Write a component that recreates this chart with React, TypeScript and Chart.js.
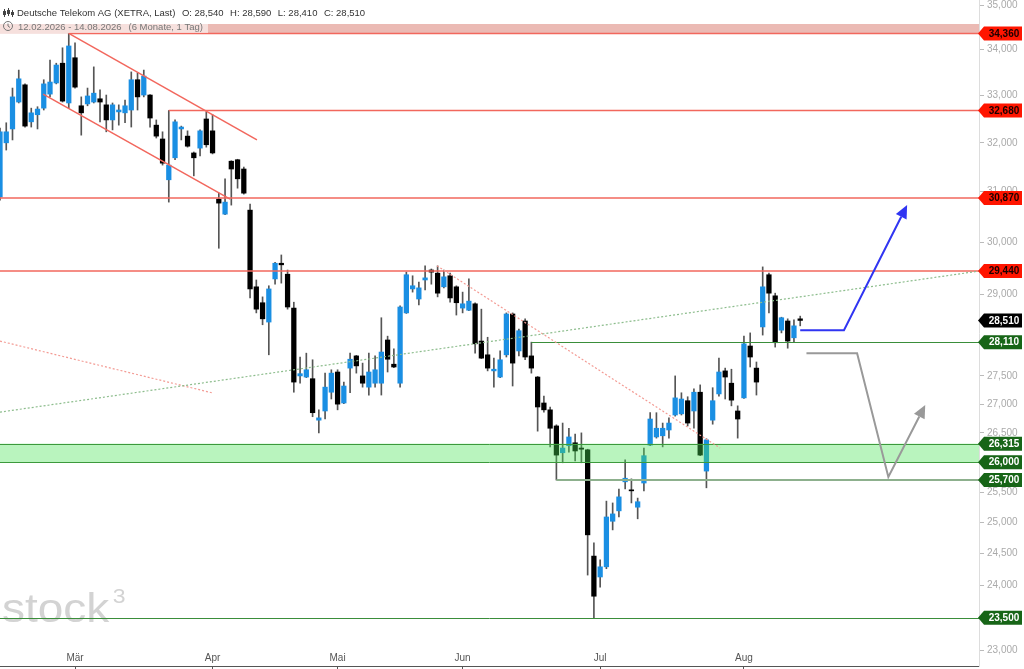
import React, { useEffect, useRef } from 'react';
import { Chart, registerables } from 'chart.js';

Chart.register(...registerables);

// ---- data (daily candles, 12.02.2026 - 14.08.2026) ----
const opens = [
  30890, 32000, 32290, 32860, 33230, 32440, 32590, 32730, 33030, 33270,
  33700, 32840, 33820, 32780, 32820, 32860, 32930, 32800, 32480, 32650,
  32630, 32690, 33340, 33010, 33010, 32370, 32080, 31240, 31690, 32290,
  32140, 31790, 31890, 32500, 32250, 30850, 30550, 31620, 31650, 31460,
  30630, 29140, 28840, 28480, 29290, 29590, 29380, 28740, 27500, 27480,
  27450, 26720, 26880, 27210, 27570, 27020, 27640, 27860, 27500, 27300,
  27370, 27370, 28150, 27710, 27370, 28650, 29100, 28910, 29270, 29460,
  29400, 29140, 29350, 29140, 28740, 28700, 28820, 28130, 27880, 27590,
  27480, 27880, 28630, 27950, 28500, 27860, 27480, 27020, 26900, 26620,
  26160, 26280, 26330, 26240, 26210, 24460, 24130, 24290, 25020, 25190,
  25670, 25530, 25250, 25650, 26290, 26430, 26450, 26550, 26810, 26830,
  27060, 26880, 27210, 25850, 26720, 27180, 27590, 27370, 26880, 27110,
  28040, 27640, 28390, 29370, 28970, 28330, 28500, 28190, 28540,
];
const highs = [
  32310, 32420, 33160, 33550, 33250, 32730, 32760, 33340, 33770, 33700,
  34040, 34360, 34150, 32970, 33160, 33620, 33120, 33010, 32840, 32800,
  32900, 33510, 33490, 33550, 33020, 32480, 32230, 32680, 32480, 32350,
  32250, 31810, 32270, 32650, 32590, 30970, 31260, 31630, 31660, 31500,
  30750, 29270, 28950, 29160, 29610, 29750, 29460, 28850, 27840, 27910,
  27790, 26900, 27550, 27610, 27610, 27390, 27910, 27870, 27730, 27910,
  27860, 28560, 28220, 27990, 28780, 29420, 29350, 29230, 29540, 29480,
  29540, 29460, 29400, 29160, 29040, 29290, 28840, 28720, 28200, 27820,
  27950, 28650, 28650, 28350, 28540, 28110, 27490, 27140, 26950, 26640,
  26670, 26580, 26480, 26500, 26220, 24670, 24400, 25350, 25320, 25550,
  26040, 25720, 25400, 26240, 26850, 26850, 26670, 26760, 27500, 27200,
  27130, 27270, 27340, 26400, 27290, 27820, 27640, 27620, 26970, 28220,
  28280, 27750, 29520, 29400, 29020, 28570, 28540, 28520, 28590,
];
const lows = [
  30830, 31850, 32060, 32840, 32330, 32330, 32290, 32690, 32970, 33250,
  32860, 32730, 33160, 32160, 32780, 32840, 32440, 32230, 32270, 32370,
  32420, 32330, 32690, 32970, 32330, 32100, 31540, 30790, 31650, 32060,
  31910, 31320, 31730, 31910, 31770, 29880, 30540, 30730, 31070, 30950,
  28930, 28650, 28430, 27880, 29190, 29210, 28720, 27210, 27370, 27470,
  26780, 26500, 26740, 27090, 26900, 27010, 27200, 27550, 27300, 27160,
  27300, 27160, 27570, 27650, 27300, 28640, 29040, 28800, 29080, 29190,
  28950, 29120, 28850, 28610, 28650, 28690, 27910, 27810, 27590, 27300,
  27470, 27840, 27320, 27860, 27790, 27550, 26530, 26860, 26260, 25700,
  25990, 26170, 26020, 25990, 24160, 23500, 23970, 24260, 24880, 25090,
  25550, 25320, 25060, 25520, 26280, 26410, 26260, 26410, 26790, 26810,
  26620, 26580, 26110, 25570, 26650, 27140, 27090, 26970, 26410, 27100,
  27660, 27160, 28240, 28650, 28020, 28280, 28000, 28110, 28410,
];
const closes = [
  32230, 32230, 32970, 33360, 32350, 32630, 32710, 33250, 33290, 33660,
  32880, 34080, 33180, 32630, 32990, 33050, 32860, 32480, 32800, 32690,
  32780, 33340, 32970, 33420, 32520, 32140, 31580, 31540, 32440, 32330,
  31930, 31690, 32250, 31960, 31790, 30770, 30790, 31460, 31260, 30970,
  29100, 28720, 28540, 29100, 29590, 29560, 28760, 27390, 27540, 27610,
  26850, 26760, 27300, 27550, 27000, 27320, 27800, 27680, 27370, 27570,
  27610, 27930, 27800, 27660, 28760, 29370, 29160, 29120, 29310, 29420,
  29020, 29330, 28930, 28840, 28820, 28870, 28080, 27820, 27640, 27620,
  27790, 28630, 27730, 28320, 27840, 27640, 26950, 26900, 26580, 26120,
  26240, 26430, 26190, 26220, 24800, 23830, 24290, 25090, 25140, 25420,
  25730, 25520, 25340, 26110, 26740, 26580, 26580, 26670, 27110, 27090,
  26670, 27210, 26120, 26380, 27060, 27570, 27480, 27070, 26740, 28080,
  27840, 27390, 29140, 29020, 28100, 28560, 28130, 28410, 28510,
];

// x axis: first trading day of each month (candle index) and month names
const monthLabels = ['Mär', 'Apr', 'Mai', 'Jun', 'Jul', 'Aug'];
const monthStartIndex = [12, 34, 54, 74, 96, 119];
const lastSlot = 156.6;

// y axis tick labels
const yTickValues = [35000, 34000, 33000, 32000, 31000, 30000, 29000, 27500, 27000, 26500, 25500, 25000, 24500, 24000, 23000];
const yMin = 22773;
const yMax = 35114;

// horizontal levels
const resistanceLevels = [34360, 32680, 30870, 29440];
const resistanceStart = [11, 27, 0, 0];
const supportLevels = [28110, 25700, 23500];
const supportStart = [85, 89, 0];
const supportZone = [26000, 26315];
const topZone = [34360, 34570];

// trend lines: [candle index, price]
const channelUpper = [[11, 34360], [41.1, 32060]];
const channelLower = [[6.9, 33030], [36.8, 30850]];
const downTrendDotted = [[69.9, 29540], [115.2, 26240]];
const oldTrendDotted = [[0, 28130], [33.9, 27200]];
const upTrendDotted = [[0, 26860], [156.6, 29440]];

// scenario arrows
const bullPath = [[128, 28330], [135, 28330], [145.1, 30730]];
const bearPath = [[129, 27910], [137.1, 27910], [142.1, 25750], [148, 26985]];

const titleText = 'Deutsche Telekom AG (XETRA, Last)';
const periodText = '12.02.2026 - 14.08.2026';
const spanText = '(6 Monate, 1 Tag)';

const FONT = '"Liberation Sans", Arial, Helvetica, sans-serif';
const BLUE = '#1a8fe3';

const fmt = (v: number) => Math.round(v).toLocaleString('en-US');

const overlayPlugin = {
  id: 'overlay',
  beforeDatasetsDraw(chart: any) {
    const { ctx, chartArea: a } = chart;
    ctx.save();
    ctx.fillStyle = '#d3d3d3';
    ctx.textBaseline = 'alphabetic';
    ctx.textAlign = 'left';
    ctx.translate(a.left + 2, a.bottom - 44);
    ctx.scale(1.15, 1);
    ctx.font = `40px ${FONT}`;
    ctx.fillText('stock', 0, 0);
    const w = ctx.measureText('stock').width;
    ctx.font = `20px ${FONT}`;
    ctx.fillText('3', w + 3, -19);
    ctx.restore();
  },
  afterDatasetsDraw(chart: any) {
    const { ctx, chartArea: a, scales } = chart;
    const xs = scales.x;
    const ys = scales.y;
    const X = (v: number) => xs.getPixelForValue(v);
    const Y = (v: number) => ys.getPixelForValue(v);
    ctx.save();
    ctx.beginPath();
    ctx.rect(a.left, a.top, a.right - a.left, a.bottom - a.top);
    ctx.clip();

    // top band
    const t0 = Y(topZone[1]);
    const t1 = Y(topZone[0]);
    ctx.fillStyle = '#ebbab4';
    ctx.fillRect(a.left, t0, a.right - a.left, t1 - t0);

    // green support zone (over candles)
    const g0 = Y(supportZone[1]);
    const g1 = Y(supportZone[0]);
    ctx.fillStyle = 'rgba(70,225,85,0.38)';
    ctx.fillRect(a.left, g0, a.right - a.left, g1 - g0);

    const hline = (y: number, x0: number, color: string, width: number) => {
      ctx.strokeStyle = color;
      ctx.lineWidth = width;
      ctx.setLineDash([]);
      ctx.beginPath();
      ctx.moveTo(x0, y);
      ctx.lineTo(a.right, y);
      ctx.stroke();
    };
    hline(Math.round(g0) + 0.5, a.left, '#3c9a3c', 1);
    hline(Math.round(g1) + 0.5, a.left, '#3c9a3c', 1);

    resistanceLevels.forEach((v, i) => {
      const x0 = resistanceStart[i] === 0 ? a.left : X(resistanceStart[i]);
      hline(Y(v), x0, '#f2675d', 1.5);
    });
    supportLevels.forEach((v, i) => {
      const x0 = supportStart[i] === 0 ? a.left : X(supportStart[i]);
      if (v === 25700) hline(Y(v), x0, '#8db08d', 2);
      else hline(Math.round(Y(v)) + 0.5, x0, '#3a8e3a', 1);
    });

    const seg = (pts: number[][], color: string, width: number, dash: number[]) => {
      ctx.strokeStyle = color;
      ctx.lineWidth = width;
      ctx.setLineDash(dash);
      ctx.beginPath();
      pts.forEach(([i, v], k) => {
        if (k === 0) ctx.moveTo(X(i), Y(v));
        else ctx.lineTo(X(i), Y(v));
      });
      ctx.stroke();
      ctx.setLineDash([]);
    };
    seg(channelUpper, '#f2675d', 1.5, []);
    seg(channelLower, '#f2675d', 1.5, []);
    seg(downTrendDotted, '#f39b94', 1.2, [2, 2]);
    seg(oldTrendDotted, '#f39b94', 1.2, [2, 2]);
    seg(upTrendDotted, '#8dbd8d', 1.2, [2, 2]);

    const arrow = (pts: number[][], color: string) => {
      const p = pts.map(([i, v]) => [X(i), Y(v)]);
      const [tx, ty] = p[p.length - 1];
      const [px, py] = p[p.length - 2];
      const ang = Math.atan2(ty - py, tx - px);
      const L = 13;
      const W = 6;
      const bx = tx - L * Math.cos(ang);
      const by = ty - L * Math.sin(ang);
      ctx.strokeStyle = color;
      ctx.lineWidth = 2;
      ctx.lineJoin = 'miter';
      ctx.beginPath();
      ctx.moveTo(p[0][0], p[0][1]);
      for (let k = 1; k < p.length - 1; k++) ctx.lineTo(p[k][0], p[k][1]);
      ctx.lineTo(bx, by);
      ctx.stroke();
      ctx.fillStyle = color;
      ctx.beginPath();
      ctx.moveTo(tx, ty);
      ctx.lineTo(bx + W * Math.sin(ang), by - W * Math.cos(ang));
      ctx.lineTo(bx - W * Math.sin(ang), by + W * Math.cos(ang));
      ctx.closePath();
      ctx.fill();
    };
    arrow(bullPath, '#3035f2');
    arrow(bearPath, '#999999');

    ctx.restore();
  },
  afterDraw(chart: any) {
    const { ctx, chartArea: a, scales, width } = chart;
    const ys = scales.y;
    const n = closes.length;

    // price tags on the right axis
    const tags: { v: number; fill: string; color: string }[] = [];
    resistanceLevels.forEach((v) => tags.push({ v, fill: '#ff1500', color: '#1a0000' }));
    tags.push({ v: closes[n - 1], fill: '#000000', color: '#ffffff' });
    [supportLevels[0], supportZone[1], supportZone[0], supportLevels[1], supportLevels[2]].forEach((v) =>
      tags.push({ v, fill: '#176517', color: '#ffffff' })
    );
    ctx.save();
    tags.forEach((t) => {
      const y = ys.getPixelForValue(t.v);
      const h = 7;
      const tip = a.right - 1;
      const sh = a.right + 5;
      const r = width - 2;
      ctx.fillStyle = t.fill;
      ctx.beginPath();
      ctx.moveTo(tip, y);
      ctx.lineTo(sh, y - h);
      ctx.lineTo(r, y - h);
      ctx.lineTo(r, y + h);
      ctx.lineTo(sh, y + h);
      ctx.closePath();
      ctx.fill();
      ctx.fillStyle = t.color;
      ctx.font = `bold 10px ${FONT}`;
      ctx.textAlign = 'center';
      ctx.textBaseline = 'middle';
      ctx.fillText(fmt(t.v), (sh + r) / 2 + 1, y + 0.5);
    });

    // header line 1
    ctx.textAlign = 'left';
    ctx.textBaseline = 'alphabetic';
    ctx.font = `9.5px ${FONT}`;
    ctx.fillStyle = '#333333';
    const parts = [
      titleText,
      `O: ${fmt(opens[n - 1])}`,
      `H: ${fmt(highs[n - 1])}`,
      `L: ${fmt(lows[n - 1])}`,
      `C: ${fmt(closes[n - 1])}`,
    ];
    let x = 17;
    parts.forEach((p) => {
      ctx.fillText(p, x, 16);
      x += ctx.measureText(p).width + 6.5;
    });
    // small candle icon
    ctx.strokeStyle = '#444';
    ctx.lineWidth = 1;
    [[4.5, 9, 17, 11, 15], [8.5, 8, 16, 10, 14], [12.5, 10, 17, 12, 15]].forEach(([ix, w0, w1, b0, b1]) => {
      ctx.beginPath();
      ctx.moveTo(ix, w0);
      ctx.lineTo(ix, w1);
      ctx.stroke();
      ctx.fillStyle = '#444';
      ctx.fillRect(ix - 1.5, b0, 3, b1 - b0);
    });

    // header line 2
    ctx.fillStyle = 'rgba(255,255,255,0.55)';
    ctx.fillRect(0, 21, 208, 12);
    ctx.fillStyle = '#777777';
    ctx.fillText(periodText, 18, 30);
    const pw = ctx.measureText(periodText).width;
    ctx.fillText(spanText, 18 + pw + 7, 30);
    ctx.strokeStyle = '#777777';
    ctx.beginPath();
    ctx.arc(8, 26, 4.5, 0, Math.PI * 2);
    ctx.stroke();
    ctx.beginPath();
    ctx.moveTo(8, 23.5);
    ctx.lineTo(8, 26);
    ctx.lineTo(10, 27.5);
    ctx.stroke();
    ctx.restore();
  },
};

export default function App() {
  const canvasRef = useRef<HTMLCanvasElement | null>(null);

  useEffect(() => {
    document.body.style.margin = '0';
    const canvas = canvasRef.current;
    if (!canvas) return;
    Chart.defaults.font.family = FONT;

    const idx = opens.map((_, i) => i);
    const bodyData = idx.map((i) => ({ x: i, y: [Math.min(opens[i], closes[i]), Math.max(opens[i], closes[i])] }));
    const wickData = idx.map((i) => ({ x: i, y: [lows[i], highs[i]] }));
    const bodyColors = idx.map((i) => (closes[i] > opens[i] ? BLUE : '#000000'));

    const chart = new Chart(canvas, {
      type: 'bar',
      data: {
        datasets: [
          {
            label: 'Körper',
            data: bodyData as any,
            backgroundColor: bodyColors,
            barThickness: 4.6,
            grouped: false,
            minBarLength: 1,
            borderWidth: 0,
            order: 0,
          } as any,
          {
            label: 'Docht',
            data: wickData as any,
            backgroundColor: '#555555',
            barThickness: 1,
            grouped: false,
            borderWidth: 0,
            order: 1,
          } as any,
        ],
      },
      options: {
        animation: false,
        responsive: true,
        maintainAspectRatio: false,
        events: [],
        layout: { padding: 0 },
        plugins: { legend: { display: false }, tooltip: { enabled: false } },
        scales: {
          x: {
            type: 'linear',
            min: 0,
            max: lastSlot,
            bounds: 'data',
            offset: false,
            afterBuildTicks: (s: any) => {
              s.ticks = monthStartIndex.map((v) => ({ value: v }));
            },
            afterFit: (s: any) => {
              s.height = 3;
              s.paddingLeft = 0;
              s.paddingRight = 0;
            },
            grid: { display: true, drawOnChartArea: false, drawTicks: true, tickLength: 4, tickColor: '#555', offset: false },
            border: { display: true, color: '#555', width: 1 },
            ticks: {
              mirror: true,
              padding: 2,
              autoSkip: false,
              maxRotation: 0,
              color: '#555',
              font: { size: 10, family: FONT },
              callback: (_v: any, i: number) => monthLabels[i],
            },
          } as any,
          y: {
            type: 'logarithmic',
            position: 'right',
            min: yMin,
            max: yMax,
            bounds: 'data',
            afterBuildTicks: (s: any) => {
              s.ticks = yTickValues.map((v) => ({ value: v }));
            },
            afterFit: (s: any) => {
              s.width = 45;
              s.paddingTop = 0;
              s.paddingBottom = 0;
            },
            grid: { display: true, drawOnChartArea: false, drawTicks: true, tickLength: 5, tickColor: '#bbb' },
            border: { display: true, color: '#dddddd', width: 1 },
            ticks: {
              autoSkip: false,
              padding: 3,
              color: '#aaaaaa',
              font: { size: 10, family: FONT },
              callback: (v: any) => fmt(Number(v)),
            },
          } as any,
        },
      },
      plugins: [overlayPlugin],
    });
    return () => chart.destroy();
  }, []);

  return (
    <div style={{ width: 1024, height: 669, position: 'relative', background: '#fff' }}>
      <canvas ref={canvasRef} />
    </div>
  );
}
